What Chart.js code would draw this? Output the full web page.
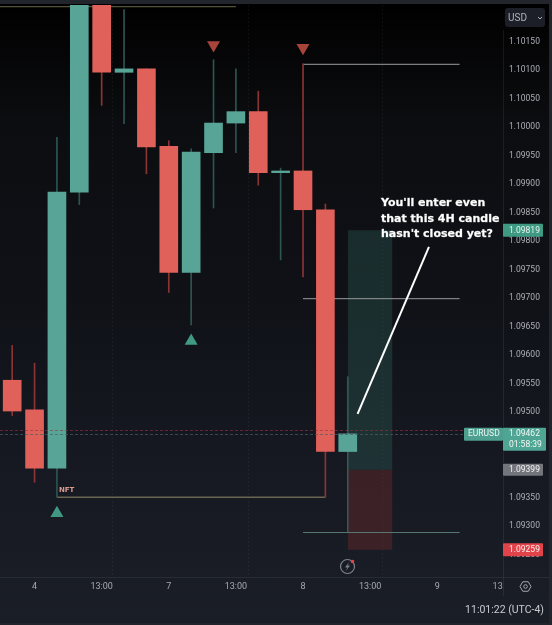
<!DOCTYPE html>
<html>
<head>
<meta charset="utf-8">
<style>
  html, body { margin: 0; padding: 0; background: #0b0c0f; }
  #wrap { position: relative; width: 552px; height: 625px; overflow: hidden; }
</style>
<script src="https://cdn.jsdelivr.net/npm/chart.js@4/dist/chart.umd.js"></script>
</head>
<body>
<div id="wrap"><canvas id="chart" width="552" height="625"></canvas></div>
<script>
'use strict';

// EURUSD 4H candles, one entry per bar
const opens  = [1.09556, 1.09504, 1.09402, 1.09886, 1.10230, 1.10096, 1.10102, 1.09966, 1.09745, 1.09955, 1.10007, 1.10027, 1.09920, 1.09923, 1.09855, 1.09431];
const highs  = [1.09617, 1.09586, 1.09982, 1.10300, 1.10300, 1.10206, 1.10102, 1.09976, 1.09962, 1.10118, 1.10102, 1.10063, 1.09928, 1.10111, 1.09865, 1.09562];
const lows   = [1.09494, 1.09377, 1.09351, 1.09864, 1.10038, 1.10006, 1.09918, 1.09710, 1.09653, 1.09858, 1.09955, 1.09898, 1.09767, 1.09737, 1.09351, 1.09431];
const closes = [1.09502, 1.09402, 1.09886, 1.10230, 1.10096, 1.10102, 1.09965, 1.09745, 1.09956, 1.10007, 1.10027, 1.09920, 1.09923, 1.09855, 1.09431, 1.09462];

const priceTicks = [1.1015, 1.1010, 1.1005, 1.1000, 1.0995, 1.0990, 1.0985, 1.0980, 1.0975, 1.0970, 1.0965, 1.0960, 1.0955, 1.0950, 1.0945, 1.0940, 1.0935, 1.0930, 1.0925];
const timeTicks  = [1, 4, 7, 10, 13, 16, 19, 21.7];
const timeLabels = ['4', '13:00', '7', '13:00', '8', '13:00', '9', '13'];
const gridTimes  = [4.47, 10.52, 16.55];

const sellSignals = [{ x: 9, y: 1.10144 }, { x: 13, y: 1.10139 }];
const buySignals  = [{ x: 2, y: 1.09323 }, { x: 8, y: 1.09625 }];

const lastPrice = 1.09462;
const prevMark  = 1.09468;
const tpPrice   = 1.09819;
const entry     = 1.09399;
const stopPrice = 1.09259;
const riskStart = 15;
const riskEnd   = 17;

const upColor = '#58a598';
const downColor = '#e0605a';
const upWick = '#2c5552';
const downWick = '#8a3434';

const candleColors = closes.map((c, i) => c >= opens[i] ? upColor : downColor);
const wickColors = closes.map((c, i) => c >= opens[i] ? upWick : downWick);

function hline(price, from, to, color, width) {
  return {
    type: 'line',
    data: [{ x: from, y: price }, { x: to, y: price }],
    borderColor: color,
    borderWidth: width,
    pointRadius: 0,
    order: 3
  };
}

function zone(top, bottom, color) {
  return {
    type: 'line',
    data: [{ x: riskStart, y: top }, { x: riskEnd, y: top }],
    borderWidth: 0,
    backgroundColor: color,
    fill: { value: bottom },
    pointRadius: 0,
    order: 5
  };
}

// keeps the plot area flush with the canvas edges
function fixAxisSize(scale, w, h) {
  if (w) scale.width = w;
  if (h) scale.height = h;
  scale.paddingLeft = scale.paddingRight = scale.paddingTop = scale.paddingBottom = 0;
}

// Pane backdrop, darkest at the top
const backdrop = {
  id: 'backdrop',
  beforeDraw(chart) {
    const { ctx, width, height } = chart;
    const g = ctx.createLinearGradient(0, 0, 0, height);
    g.addColorStop(0, '#000000');
    g.addColorStop(0.06, '#040405');
    g.addColorStop(0.2, '#0c0d10');
    g.addColorStop(0.5, '#101218');
    g.addColorStop(0.75, '#161922');
    g.addColorStop(1, '#1a1e26');
    ctx.fillStyle = g;
    ctx.fillRect(0, 0, width, height);
    ctx.fillStyle = '#22252c';
    ctx.fillRect(0, 0, width, 4);
    ctx.fillRect(549, 0, 3, height);
    ctx.fillRect(0, 623, width, 2);

    const x = chart.scales.x;
    const area = chart.chartArea;
    ctx.save();
    ctx.strokeStyle = 'rgba(120,125,140,0.1)';
    ctx.setLineDash([2, 2]);
    gridTimes.forEach(t => {
      const px = Math.round(x.getPixelForValue(t)) + 0.5;
      ctx.beginPath();
      ctx.moveTo(px, area.top);
      ctx.lineTo(px, area.bottom);
      ctx.stroke();
    });
    ctx.setLineDash([]);
    ctx.strokeStyle = 'rgba(150,155,170,0.12)';
    ctx.beginPath();
    ctx.moveTo(area.right + 0.5, 30);
    ctx.lineTo(area.right + 0.5, 596);
    ctx.moveTo(0, area.bottom + 0.5);
    ctx.lineTo(549, area.bottom + 0.5);
    ctx.stroke();
    ctx.restore();
  }
};

function roundTag(ctx, x, y, w, h, fill, r) {
  ctx.fillStyle = fill;
  ctx.beginPath();
  ctx.roundRect(x, y, w, h, r);
  ctx.fill();
}

// Price tags, button, clock and the small icons around the axes
const overlays = {
  id: 'overlays',
  afterDraw(chart) {
    const { ctx } = chart;
    const y = chart.scales.y;
    const x = chart.scales.x;
    const area = chart.chartArea;
    ctx.save();

    // price-line dashes
    ctx.lineWidth = 1;
    ctx.setLineDash([3, 2]);
    ctx.strokeStyle = 'rgba(150,50,60,0.6)';
    ctx.beginPath();
    ctx.moveTo(0, Math.round(y.getPixelForValue(prevMark)) + 0.5);
    ctx.lineTo(area.right, Math.round(y.getPixelForValue(prevMark)) + 0.5);
    ctx.stroke();
    ctx.strokeStyle = 'rgba(70,95,100,0.7)';
    ctx.beginPath();
    ctx.moveTo(0, Math.round(y.getPixelForValue(lastPrice)) + 0.5);
    ctx.lineTo(area.right, Math.round(y.getPixelForValue(lastPrice)) + 0.5);
    ctx.stroke();
    ctx.setLineDash([]);

    const tagX = area.right;
    ctx.textBaseline = 'middle';
    ctx.textAlign = 'left';
    ctx.font = '8.5px Roboto';

    let py = y.getPixelForValue(tpPrice);
    roundTag(ctx, tagX, py - 6.5, 40, 13, '#3f9a84', 1);
    ctx.fillStyle = '#e8f2ef';
    ctx.fillText(tpPrice.toFixed(5), tagX + 6, py + 0.5);

    py = y.getPixelForValue(lastPrice);
    roundTag(ctx, 464, py - 6, 39, 13, '#4da08f', 1);
    ctx.fillStyle = '#eef5f3';
    ctx.fillText('EURUSD', 468, py + 0.5);
    roundTag(ctx, tagX, py - 6, 43, 23, '#4fa594', 1);
    ctx.fillStyle = '#f3f7f6';
    ctx.fillText(lastPrice.toFixed(5), tagX + 6, py + 0.5);
    ctx.fillText('01:58:39', tagX + 6, py + 11);

    py = y.getPixelForValue(entry);
    roundTag(ctx, tagX, py - 6, 40, 12, '#73757c', 1);
    ctx.fillStyle = '#f2f2f3';
    ctx.fillText(entry.toFixed(5), tagX + 6, py + 0.5);

    py = y.getPixelForValue(stopPrice);
    roundTag(ctx, tagX, py - 6.5, 40, 13, '#e0434a', 1);
    ctx.fillStyle = '#fbeeee';
    ctx.fillText(stopPrice.toFixed(5), tagX + 6, py + 0.5);

    // currency button
    roundTag(ctx, 505, 8, 40, 19, '#1c1f28', 3);
    ctx.fillStyle = '#aeb1ba';
    ctx.font = '10px Roboto';
    ctx.fillText('USD', 508, 18);
    ctx.strokeStyle = '#aeb1ba';
    ctx.beginPath();
    ctx.moveTo(538, 17);
    ctx.lineTo(540, 19);
    ctx.lineTo(542, 17);
    ctx.stroke();

    // settings hexagon
    ctx.strokeStyle = '#a4a7b0';
    ctx.lineWidth = 1;
    ctx.beginPath();
    for (let a = 0; a < 6; a++) {
      const t = a * Math.PI / 3;
      const hx = 525.5 + 5.5 * Math.cos(t);
      const hy = 586.5 + 5.5 * Math.sin(t);
      if (a === 0) ctx.moveTo(hx, hy); else ctx.lineTo(hx, hy);
    }
    ctx.closePath();
    ctx.stroke();
    ctx.beginPath();
    ctx.arc(525.5, 586.5, 1.8, 0, Math.PI * 2);
    ctx.stroke();

    // lightning badge
    ctx.strokeStyle = '#7f828a';
    ctx.lineWidth = 1.2;
    ctx.beginPath();
    ctx.arc(347.5, 566.5, 7, 0, Math.PI * 2);
    ctx.stroke();
    ctx.fillStyle = '#7f828a';
    ctx.beginPath();
    ctx.moveTo(349.5, 561.5);
    ctx.lineTo(345, 567.5);
    ctx.lineTo(347.5, 567.5);
    ctx.lineTo(345.5, 571.5);
    ctx.lineTo(350, 565.5);
    ctx.lineTo(347.5, 565.5);
    ctx.closePath();
    ctx.fill();
    ctx.fillStyle = '#e0434a';
    ctx.beginPath();
    ctx.arc(352.5, 561.5, 1.8, 0, Math.PI * 2);
    ctx.fill();

    // clock
    ctx.font = '10.5px Roboto';
    ctx.textAlign = 'right';
    ctx.fillStyle = '#c8cbd2';
    ctx.fillText('11:01:22 (UTC-4)', 544, 610);

    // NFT label
    ctx.font = 'bold 7px "DejaVu Sans"';
    ctx.textAlign = 'left';
    ctx.fillStyle = '#d99a8c';
    ctx.fillText('NFT', x.getPixelForValue(2) + 2, 490);

    // callout text, thickened with a hairline stroke
    ctx.font = 'bold 11px "DejaVu Sans"';
    ctx.fillStyle = '#ffffff';
    ctx.strokeStyle = 'rgba(255,255,255,0.6)';
    ctx.lineWidth = 0.4;
    [["You'll enter even", 203.5], ['that this 4H candle', 219], ["hasn't closed yet?", 234.5]].forEach(([line, ty]) => {
      ctx.fillText(line, 381, ty);
      ctx.strokeText(line, 381, ty);
    });

    ctx.restore();
  }
};

new Chart(document.getElementById('chart'), {
  data: {
    datasets: [
      {
        type: 'bar',
        data: opens.map((o, i) => ({ x: i, y: [lows[i], highs[i]] })),
        backgroundColor: wickColors,
        barThickness: 1,
        grouped: false,
        order: 2
      },
      {
        type: 'bar',
        data: opens.map((o, i) => ({ x: i, y: [o, closes[i]] })),
        backgroundColor: candleColors,
        borderColor: candleColors,
        barThickness: 18,
        grouped: false,
        order: 1
      },
      zone(tpPrice, entry, 'rgba(44,92,84,0.38)'),
      zone(entry, stopPrice, 'rgba(122,44,46,0.38)'),
      hline(1.10211, -1, 10, '#6b6648', 1),
      hline(1.10110, 13, 20, '#9a9ba0', 1),
      hline(1.09699, 13, 20, '#9a9ba0', 1),
      hline(1.09289, 13, 20, '#56766f', 1.2),
      hline(1.09351, 2, 14, '#6a6450', 1.5),
      {
        // left edge of the trade box, below the live candle
        type: 'line',
        data: [{ x: riskStart, y: 1.09562 }, { x: riskStart, y: 1.09289 }],
        borderColor: '#3f5855',
        borderWidth: 1,
        pointRadius: 0,
        order: 3
      },
      {
        type: 'line',
        data: [{ x: 15.44, y: 1.09497 }, { x: 18.63, y: 1.09790 }],
        borderColor: '#ffffff',
        borderWidth: 2,
        pointRadius: 0,
        order: 0
      },
      {
        type: 'scatter',
        data: sellSignals,
        pointStyle: 'triangle',
        rotation: 180,
        pointRadius: 7.5,
        backgroundColor: '#a9443b',
        borderWidth: 0,
        order: 0
      },
      {
        type: 'scatter',
        data: buySignals,
        pointStyle: 'triangle',
        pointRadius: 7.5,
        backgroundColor: '#419883',
        borderWidth: 0,
        order: 0
      }
    ]
  },
  options: {
    responsive: false,
    animation: false,
    events: [],
    layout: { autoPadding: false, padding: { top: 5, left: 0, right: 0, bottom: 0 } },
    plugins: { legend: { display: false }, tooltip: { enabled: false } },
    scales: {
      x: {
        type: 'linear',
        offset: false,
        min: -0.545,
        max: 21.94,
        grid: { display: false, drawTicks: false },
        border: { display: false },
        afterBuildTicks(scale) { scale.ticks = timeTicks.map(v => ({ value: v })); },
        afterFit(scale) { fixAxisSize(scale, 0, 48); },
        ticks: {
          autoSkip: false,
          maxRotation: 0,
          padding: 4,
          color: '#a6a9b2',
          font: { family: 'Roboto', size: 9 },
          callback(value) { return timeLabels[timeTicks.indexOf(value)]; }
        }
      },
      y: {
        type: 'linear',
        position: 'right',
        min: 1.09211,
        max: 1.10214,
        grid: { display: false, drawTicks: false },
        border: { display: false },
        afterBuildTicks(scale) { scale.ticks = priceTicks.map(v => ({ value: v })); },
        afterFit(scale) { fixAxisSize(scale, 49, 0); },
        ticks: {
          autoSkip: false,
          padding: 6,
          color: '#adb0b8',
          font: { family: 'Roboto', size: 8.5 },
          callback(value) { return value.toFixed(5); }
        }
      }
    }
  },
  plugins: [backdrop, overlays]
});
</script>
</body>
</html>
